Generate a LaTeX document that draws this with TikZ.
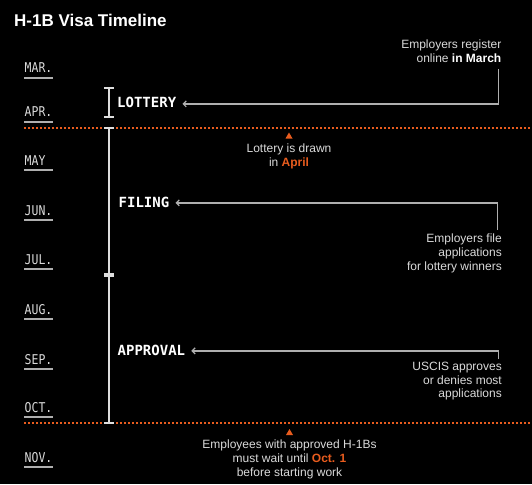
\documentclass[tikz,border=0pt]{standalone}
\usepackage{fontspec}
\setmainfont{Liberation Sans}
\setmonofont{DejaVu Sans Mono}
\newfontfamily\condmono[FakeStretch=0.85]{DejaVu Sans Mono}
\usetikzlibrary{arrows.meta}
\definecolor{orng}{RGB}{232,92,30}
\definecolor{txt}{RGB}{218,218,218}
\definecolor{linec}{RGB}{175,175,175}
\definecolor{barc}{RGB}{222,222,222}
\begin{document}
\begin{tikzpicture}[x=1pt,y=-1pt,
 month/.style={anchor=base west, inner sep=0, font=\condmono\fontsize{13.5}{13.5}\selectfont, text=txt},
 uline/.style={draw=linec, line width=1.5pt},
 phase/.style={anchor=base west, inner sep=0, font=\ttfamily\bfseries\fontsize{14}{14}\selectfont, text=white},
 note/.style={inner sep=0, font=\fontsize{12}{13.7}\selectfont, text=txt},
 conn/.style={draw=linec, line width=1.2pt, -{Straight Barb[length=3pt,width=6pt]}},
 bar/.style={draw=barc, line width=1.8pt},
 dots/.style={draw=orng, line width=1.5pt, dash pattern=on 1.5pt off 2.5pt},
 tri/.style={fill=orng, draw=none}]
\fill[black] (0,0) rectangle (532,484);
\useasboundingbox (0,0) rectangle (532,484);

\node[anchor=base west, inner sep=0, font=\bfseries\fontsize{17}{17}\selectfont, text=white] (title) at (14,27) {H-1B Visa Timeline};

% months
\foreach \nm/\lab/\yy in {mar/MAR./73, apr/APR./117, may/MAY/165, jun/JUN./215, jul/JUL./264, aug/AUG./314, sep/SEP./364, oct/OCT./412, nov/NOV./462}{
  \node[month] (\nm) at (24.5,\yy) {\lab};
  \draw[uline] (24,\yy+5) -- (53,\yy+5);
}

% dotted separators
\draw[dots] (24,128) -- (532,128);
\draw[dots] (24,423) -- (532,423);

% bars
\draw[bar] (108.7,88) -- (108.7,117);
\draw[bar] (104,88) -- (114,88);
\draw[bar] (104,117) -- (114,117);
\draw[bar] (108.7,128) -- (108.7,423);
\draw[bar] (104,128) -- (114,128);
\draw[bar] (104,423) -- (114,423);
\fill[barc] (104,273) rectangle (114,277);

% phase labels
\node[phase] (lottery) at (117,107) {LOTTERY};
\node[phase] (filing) at (118.5,207) {FILING};
\node[phase] (approval) at (117.5,355) {APPROVAL};

% notes
\node[note, anchor=north east, align=right] (reg) at (501.5,40) {Employers register\\online \textcolor{white}{\textbf{in March}}};
\node[note, anchor=north, align=center] (drawn) at (289,143.5) {Lottery is drawn\\in \textcolor{orng}{\textbf{April}}};
\node[note, anchor=north east, align=right] (file) at (502,234) {Employers file\\applications\\for lottery winners};
\node[note, anchor=north east, align=right] (uscis) at (502,362) {USCIS approves\\or denies most\\applications};
\node[note, anchor=north, align=center] (emp) at (289.5,440) {Employees with approved H-1Bs\\must wait until \textcolor{orng}{\textbf{Oct. 1}}\\before starting work};

% triangles
\fill[tri] (285.5,138.5) -- (292.5,138.5) -- (289,132.5) -- cycle;
\fill[tri] (286,435) -- (293,435) -- (289.5,429) -- cycle;

% connectors
\coordinate (c1) at (498.5,69);
\coordinate (c2) at (497.5,230);
\coordinate (c3) at (498.5,359);
\draw[conn] (c1) |- ([xshift=6pt,yshift=-2pt]lottery.east);
\draw[conn] (c2) |- ([xshift=6pt,yshift=-1pt]filing.east);
\draw[conn] (c3) |- ([xshift=6pt,yshift=-1pt]approval.east);
\end{tikzpicture}
\end{document}
